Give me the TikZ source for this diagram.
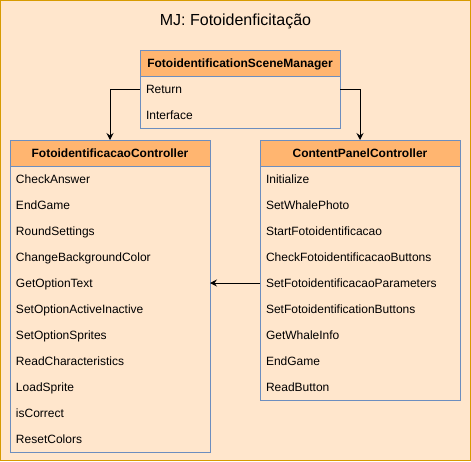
\documentclass[tikz,border=0pt]{standalone}
\usepackage{fontspec}
\setmainfont{Liberation Sans}
\usepackage{tikz}
\usetikzlibrary{positioning,arrows.meta}
\definecolor{framefill}{HTML}{FFE6CC}
\definecolor{frameline}{HTML}{D79B00}
\definecolor{headfill}{HTML}{FFB570}
\definecolor{classline}{HTML}{6C8EBF}
\tikzstyle{outerframe} = [rectangle, draw=frameline, fill=framefill, line width=1pt, 
    outer sep=0pt, minimum width=470pt, minimum height=460pt]
\tikzstyle{classhead} = [rectangle, draw=classline, fill=headfill, line width=1pt, outer sep=0pt,
    minimum width=200pt, minimum height=26pt, inner sep=0pt, text height=9pt, text depth=0pt,
    font=\fontsize{12pt}{14pt}\selectfont\bfseries]
\tikzstyle{member} = [rectangle, outer sep=0pt, minimum width=200pt, minimum height=26pt,
    text width=188pt, inner xsep=6pt, inner ysep=0pt, align=left, text height=9pt, text depth=0pt,
    font=\fontsize{12pt}{14pt}\selectfont]
\tikzstyle{classbox} = [draw=classline, line width=1pt]
\tikzstyle{connector} = [draw, line width=1pt, -{Stealth[length=7pt,width=7pt,inset=2.5pt]}]

\begin{document}
\begin{tikzpicture}[x=1pt, y=-1pt]
    \useasboundingbox (0,0) rectangle (471,461);
    % Place frame and title
    \node [outerframe] (frame) at (235.5,230.5) {};
    \node [anchor=base, font=\fontsize{16pt}{19pt}\selectfont] (title) at (235.5,25.5) {MJ: Fotoidenficitação};

    % Scene manager
    \node [classhead] (manager) at (240,63) {FotoidentificationSceneManager};
    \node [member, below=0pt of manager] (mReturn) {Return};
    \node [member, below=0pt of mReturn] (mInterface) {Interface};
    \path [classbox] (manager.north west) rectangle (mInterface.south east);

    % Fotoidentificacao controller
    \node [classhead] (fcHead) at (110,153) {FotoidentificacaoController};
    \node [member, below=0pt of fcHead] (fcCheck) {CheckAnswer};
    \node [member, below=0pt of fcCheck] (fcEnd) {EndGame};
    \node [member, below=0pt of fcEnd] (fcRound) {RoundSettings};
    \node [member, below=0pt of fcRound] (fcColor) {ChangeBackgroundColor};
    \node [member, below=0pt of fcColor] (fcGetText) {GetOptionText};
    \node [member, below=0pt of fcGetText] (fcActive) {SetOptionActiveInactive};
    \node [member, below=0pt of fcActive] (fcSprites) {SetOptionSprites};
    \node [member, below=0pt of fcSprites] (fcRead) {ReadCharacteristics};
    \node [member, below=0pt of fcRead] (fcLoad) {LoadSprite};
    \node [member, below=0pt of fcLoad] (fcCorrect) {isCorrect};
    \node [member, below=0pt of fcCorrect] (fcReset) {ResetColors};
    \path [classbox] (fcHead.north west) rectangle (fcReset.south east);

    % Content panel controller
    \node [classhead] (cpHead) at (360,153) {ContentPanelController};
    \node [member, below=0pt of cpHead] (cpInit) {Initialize};
    \node [member, below=0pt of cpInit] (cpPhoto) {SetWhalePhoto};
    \node [member, below=0pt of cpPhoto] (cpStart) {StartFotoidentificacao};
    \node [member, below=0pt of cpStart] (cpCheck) {CheckFotoidentificacaoButtons};
    \node [member, below=0pt of cpCheck] (cpSetParams) {SetFotoidentificacaoParameters};
    \node [member, below=0pt of cpSetParams] (cpSetButtons) {SetFotoidentificationButtons};
    \node [member, below=0pt of cpSetButtons] (cpInfo) {GetWhaleInfo};
    \node [member, below=0pt of cpInfo] (cpEnd) {EndGame};
    \node [member, below=0pt of cpEnd] (cpRead) {ReadButton};
    \path [classbox] (cpHead.north west) rectangle (cpRead.south east);

    % Draw lines
    \path [connector] (mReturn.west) -| (fcHead.north);
    \path [connector] (mReturn.east) -| (cpHead.north);
    \path [connector] (cpSetParams.west) -- (fcGetText.east);
\end{tikzpicture}
\end{document}
